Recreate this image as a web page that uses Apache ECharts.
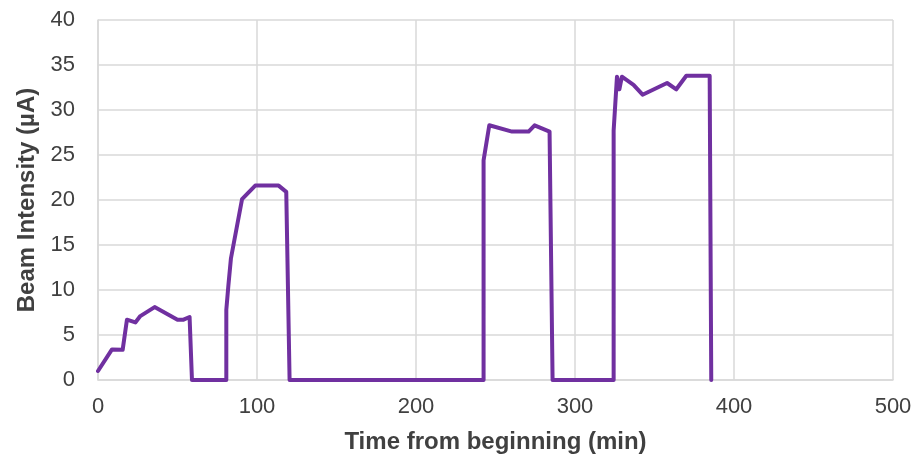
<!DOCTYPE html>
<html>
<head>
<meta charset="utf-8">
<script src="https://cdn.jsdelivr.net/npm/echarts@6/dist/echarts.min.js"></script>
<style>
  html, body { margin: 0; padding: 0; background: #ffffff; overflow: hidden; }
  #chart { width: 924px; height: 459px; }
</style>
</head>
<body>
<div id="chart"></div>
<script>
// Beam intensity over the run, sampled in minutes from the start
const timeMin = [0, 8.8, 15.5, 18.2, 23.5, 26.6, 35.6, 50, 53.8, 57.6, 59.1, 80.7, 80.7, 82, 83.6, 90.6, 98.9, 113.6, 118.4, 120.5,
  242.5, 242.5, 246.1, 260.4, 270.8, 274.6, 284, 285.9,
  324.3, 324.3, 326.4, 327.9, 329.5, 336.8, 342.5, 357.9, 363.7, 370, 384.7, 385.7];
const beamUA = [1.0, 3.4, 3.35, 6.7, 6.4, 7.1, 8.1, 6.7, 6.7, 7.0, 0, 0, 7.8, 10.5, 13.5, 20.1, 21.6, 21.6, 20.9, 0,
  0, 24.4, 28.3, 27.6, 27.6, 28.3, 27.6, 0,
  0, 27.7, 33.7, 32.3, 33.7, 32.8, 31.7, 33.0, 32.3, 33.8, 33.8, 0];

const xTitle = 'Time from beginning (min)';
const yTitle = 'Beam Intensity (µA)';

const points = timeMin.map((t, i) => [t, beamUA[i]]);

const chart = echarts.init(document.getElementById('chart'), null, { renderer: 'canvas' });
const gridColor = '#d9d9d9';
const textColor = '#404040';
const font = 'Arial, "Liberation Sans", sans-serif';

chart.setOption({
  animation: false,
  backgroundColor: '#ffffff',
  grid: { left: 98, right: 31, top: 20, bottom: 76, containLabel: false },
  xAxis: {
    type: 'value', min: 0, max: 500, interval: 100,
    name: xTitle, nameLocation: 'middle', nameGap: 50,
    nameTextStyle: { fontFamily: font, fontSize: 24, fontWeight: 'bold', color: textColor },
    axisLine: { show: true, lineStyle: { color: gridColor, width: 1.5 } },
    axisTick: { show: false },
    axisLabel: { fontFamily: font, fontSize: 22, color: textColor, margin: 16 },
    splitLine: { show: true, lineStyle: { color: gridColor, width: 1.5 } }
  },
  yAxis: {
    type: 'value', min: 0, max: 40, interval: 5,
    name: yTitle, nameLocation: 'middle', nameGap: 54,
    nameTextStyle: { fontFamily: font, fontSize: 24, fontWeight: 'bold', color: textColor },
    axisLine: { show: true, lineStyle: { color: gridColor, width: 1.5 } },
    axisTick: { show: false },
    axisLabel: { fontFamily: font, fontSize: 22, color: textColor, margin: 23 },
    splitLine: { show: true, lineStyle: { color: gridColor, width: 1.5 } }
  },
  series: [{
    type: 'line',
    data: points,
    showSymbol: false,
    lineStyle: { color: '#7030a0', width: 4, cap: 'round', join: 'round' }
  }]
});
</script>
</body>
</html>
